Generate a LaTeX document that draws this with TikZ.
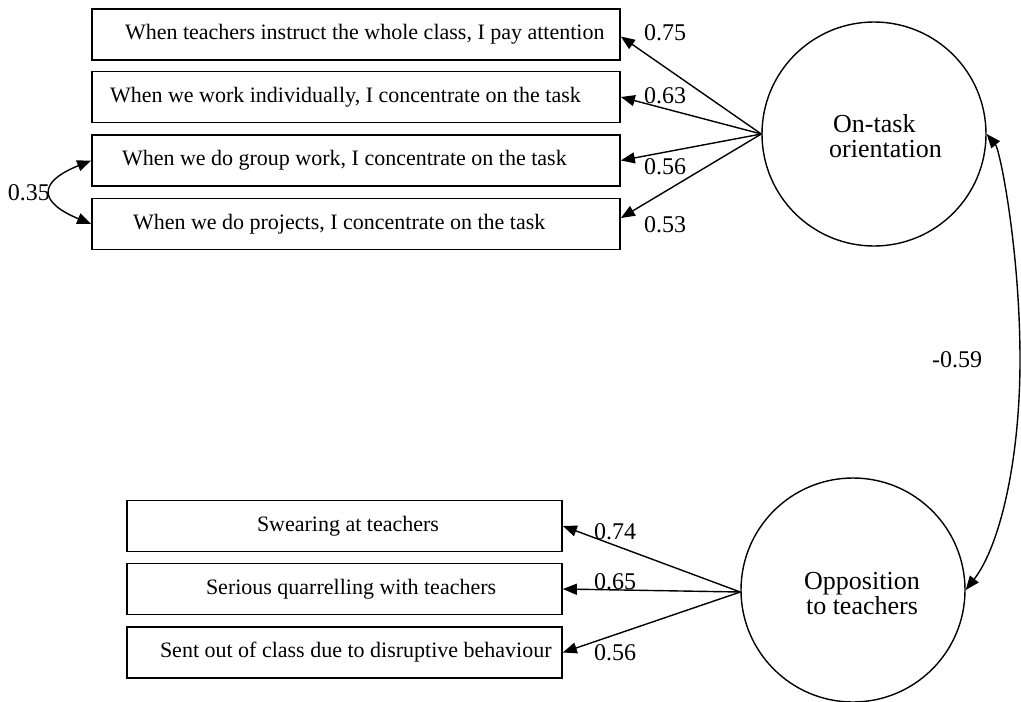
\documentclass[tikz,border=0pt]{standalone}
\usepackage{fontspec}
\setmainfont{Liberation Serif}
\usetikzlibrary{arrows.meta,calc}
\begin{document}
\begin{tikzpicture}[x=1pt,y=-1pt,
 itembox/.style={draw, line width=1.7pt, minimum height=51pt, inner xsep=0pt, inner ysep=0pt, align=flush left, font=\fontsize{22}{24}\selectfont},
 topbox/.style={itembox, text width=528pt},
 botbox/.style={itembox, text width=435pt},
 latent/.style={draw, circle, line width=1.4pt, minimum size=224pt, inner sep=0pt, font=\fontsize{26}{25}\selectfont},
 coef/.style={inner sep=0pt, font=\fontsize{24}{24}\selectfont},
 load/.style={line width=1.4pt, -{Triangle[length=14pt,width=11pt]}},
 corr/.style={line width=1.4pt, {Triangle[length=14pt,width=11pt]}-{Triangle[length=14pt,width=11pt]}},
]
\useasboundingbox (0,0) rectangle (1021,702);
\fill[white] (0,0) rectangle (1021,702);

% observed items, upper factor
\node[topbox] (b1) at (356,34.5) {\noindent\hspace*{33pt}When teachers instruct the whole class, I pay attention};
\node[topbox] (b2) at (356,97) {\noindent\hspace*{18pt}When we work individually, I concentrate on the task};
\node[topbox] (b3) at (356,160.5) {\noindent\hspace*{30pt}When we do group work, I concentrate on the task};
\node[topbox] (b4) at (356,224) {\noindent\hspace*{41pt}When we do projects, I concentrate on the task};

% observed items, lower factor
\node[botbox] (b5) at (344.5,526) {\noindent\hspace*{130pt}Swearing at teachers};
\node[botbox] (b6) at (344.5,589) {\noindent\hspace*{79pt}Serious quarrelling with teachers};
\node[botbox] (b7) at (344.5,652.5) {\noindent\hspace*{33pt}Sent out of class due to disruptive behaviour};

% latent factors
\node[latent] (c1) at (874,134) {\hspace*{23pt}\raisebox{-6pt}[\height][\depth]{\begin{tabular}{@{}l@{}}\hspace{4pt}On-task\\orientation\end{tabular}}};
\node[latent] (c2) at (853,590) {\hspace*{18pt}\raisebox{-7pt}[\height][\depth]{\begin{tabular}{@{}c@{}}Opposition\\to teachers\end{tabular}}};

% loadings
\draw[load] (c1.west) -- ($(b1.east)+(0,2)$);
\draw[load] (c1.west) -- (b2.east);
\draw[load] (c1.west) -- (b3.east);
\draw[load] (c1.west) -- ($(b4.east)+(0,-6)$);
\draw[load] ($(c2.west)+(0,2)$) -- (b5.east);
\draw[load] ($(c2.west)+(0,2)$) -- (b6.east);
\draw[load] ($(c2.west)+(0,2)$) -- (b7.east);

% correlations
\draw[corr] (b3.west) .. controls (38,182) and (38,202) .. (b4.west);
\draw[corr] (c1.east) .. controls (1000,150) and (1020,250) .. (1020,360) .. controls (1020,460) and (1000,546) .. (c2.east);

% coefficients
\node[coef] (k1) at (665,33) {0.75};
\node[coef] (k2) at (665,96) {0.63};
\node[coef] (k3) at (665,167) {0.56};
\node[coef] (k4) at (665,225) {0.53};
\node[coef] (k5) at (615,532) {0.74};
\node[coef] (k6) at (615,582) {0.65};
\node[coef] (k7) at (615,653) {0.56};
\node[coef] (k8) at (29,193) {0.35};
\node[coef] (k9) at (957,360) {-0.59};
\end{tikzpicture}
\end{document}
